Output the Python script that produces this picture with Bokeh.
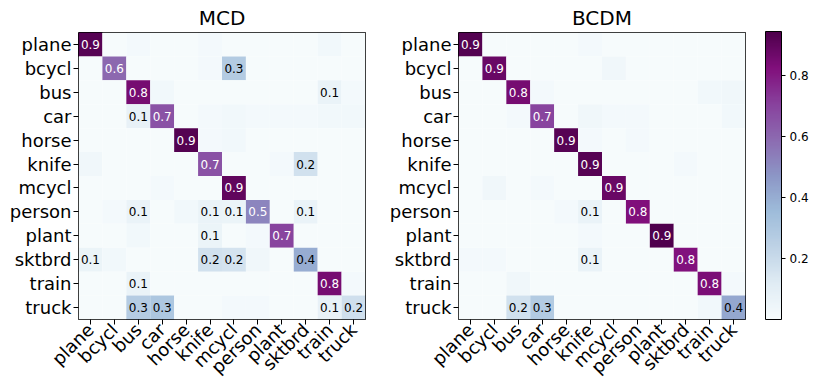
import numpy as np
from bokeh.plotting import figure
from bokeh.models import ColumnDataSource, LinearColorMapper, ColorBar, FixedTicker, Label
from bokeh.layouts import row
from bokeh.transform import transform
from bokeh.embed import file_html
from bokeh.resources import INLINE
from bokeh.core.properties import value

labels = ["plane", "bcycl", "bus", "car", "horse", "knife", "mcycl",
          "person", "plant", "sktbrd", "train", "truck"]

# rows = true class, columns = predicted class
mcd_values = [
    [0.92, 0.01, 0.02, 0.01, 0.01, 0.02, 0.01, 0.01, 0.01, 0.01, 0.03, 0.01],
    [0.01, 0.60, 0.01, 0.01, 0.01, 0.02, 0.28, 0.01, 0.01, 0.01, 0.01, 0.01],
    [0.01, 0.01, 0.85, 0.03, 0.01, 0.01, 0.01, 0.01, 0.01, 0.01, 0.07, 0.02],
    [0.01, 0.01, 0.08, 0.66, 0.01, 0.02, 0.03, 0.02, 0.02, 0.02, 0.03, 0.03],
    [0.01, 0.01, 0.01, 0.01, 0.93, 0.02, 0.03, 0.01, 0.01, 0.01, 0.01, 0.01],
    [0.04, 0.01, 0.01, 0.01, 0.01, 0.66, 0.01, 0.01, 0.02, 0.17, 0.01, 0.01],
    [0.01, 0.01, 0.01, 0.02, 0.01, 0.01, 0.90, 0.01, 0.01, 0.01, 0.01, 0.01],
    [0.01, 0.02, 0.07, 0.01, 0.03, 0.07, 0.06, 0.52, 0.01, 0.07, 0.01, 0.01],
    [0.01, 0.01, 0.03, 0.01, 0.01, 0.06, 0.01, 0.02, 0.70, 0.01, 0.01, 0.01],
    [0.06, 0.03, 0.01, 0.01, 0.01, 0.17, 0.16, 0.04, 0.01, 0.40, 0.01, 0.01],
    [0.01, 0.01, 0.07, 0.01, 0.01, 0.01, 0.01, 0.01, 0.01, 0.01, 0.85, 0.02],
    [0.01, 0.01, 0.27, 0.30, 0.01, 0.01, 0.02, 0.02, 0.01, 0.01, 0.08, 0.18],
]

bcdm_values = [
    [0.93, 0.01, 0.01, 0.01, 0.01, 0.02, 0.01, 0.01, 0.01, 0.01, 0.01, 0.01],
    [0.01, 0.88, 0.01, 0.01, 0.01, 0.01, 0.04, 0.01, 0.01, 0.01, 0.01, 0.01],
    [0.01, 0.01, 0.85, 0.02, 0.01, 0.01, 0.01, 0.01, 0.01, 0.01, 0.03, 0.04],
    [0.01, 0.01, 0.02, 0.70, 0.01, 0.04, 0.02, 0.02, 0.01, 0.01, 0.01, 0.03],
    [0.01, 0.01, 0.01, 0.01, 0.92, 0.02, 0.01, 0.02, 0.01, 0.01, 0.01, 0.01],
    [0.01, 0.01, 0.01, 0.01, 0.01, 0.92, 0.01, 0.01, 0.01, 0.02, 0.01, 0.01],
    [0.01, 0.04, 0.01, 0.02, 0.01, 0.01, 0.88, 0.01, 0.01, 0.01, 0.01, 0.01],
    [0.01, 0.01, 0.01, 0.01, 0.02, 0.07, 0.01, 0.83, 0.01, 0.01, 0.01, 0.01],
    [0.01, 0.01, 0.01, 0.01, 0.01, 0.02, 0.01, 0.01, 0.94, 0.01, 0.01, 0.01],
    [0.02, 0.02, 0.01, 0.01, 0.01, 0.07, 0.01, 0.01, 0.01, 0.82, 0.01, 0.01],
    [0.01, 0.01, 0.04, 0.01, 0.01, 0.01, 0.01, 0.01, 0.01, 0.01, 0.84, 0.02],
    [0.01, 0.01, 0.17, 0.28, 0.01, 0.01, 0.01, 0.01, 0.01, 0.01, 0.03, 0.42],
]

colorbar_ticks = [0.2, 0.4, 0.6, 0.8]
watermark = "https://blog.csdn.net/Xie_mixue"

bupu9 = ["#f7fcfd", "#e0ecf4", "#bfd3e6", "#9ebcda", "#8c96c6",
         "#8c6bb1", "#88419d", "#810f7c", "#4d004b"]


def make_palette(stops, n=256):
    rgb = np.array([[int(c[i:i + 2], 16) for i in (1, 3, 5)] for c in stops], float)
    pos = np.linspace(0, 1, len(stops))
    t = np.linspace(0, 1, n)
    out = []
    for k in range(n):
        r, g, b = (np.interp(t[k], pos, rgb[:, j]) for j in range(3))
        out.append("#%02x%02x%02x" % (int(round(r)), int(round(g)), int(round(b))))
    return out


palette = make_palette(bupu9)
mapper = LinearColorMapper(palette=palette, low=0.0, high=0.945)

FONT = "DejaVu Sans"


def make_fig(title, matrix, border_left, border_right, border_bottom):
    xs, ys, vals, txt, tcol = [], [], [], [], []
    for i, true_lab in enumerate(labels):
        for j, pred_lab in enumerate(labels):
            v = matrix[i][j]
            xs.append(pred_lab)
            ys.append(true_lab)
            vals.append(v)
            s = "%.1f" % v
            txt.append("" if s == "0.0" else s)
            tcol.append("white" if v > 0.47 else "black")
    src = ColumnDataSource(dict(x=xs, y=ys, v=vals, t=txt, c=tcol))
    p = figure(x_range=labels, y_range=list(reversed(labels)),
               frame_width=287, frame_height=287,
               min_border_left=border_left, min_border_right=border_right,
               min_border_top=25, min_border_bottom=border_bottom,
               output_backend="svg", toolbar_location=None, title=title)
    p.rect(x="x", y="y", width=1, height=1, source=src,
           fill_color=transform("v", mapper), line_color=None)
    p.text(x="x", y="y", text="t", source=src, text_color="c",
           text_align="center", text_baseline="middle",
           text_font=value(FONT), text_font_size="12px")
    p.title.text_font = FONT
    p.title.text_font_size = "20px"
    p.title.text_font_style = "normal"
    p.title.text_color = "black"
    p.title.align = "center"
    p.title.standoff = 6
    p.grid.grid_line_color = None
    p.outline_line_color = "black"
    p.outline_line_alpha = 1.0
    for ax in (p.xaxis, p.yaxis):
        ax.axis_line_color = None
        ax.major_tick_line_color = "black"
        ax.major_tick_out = 5
        ax.major_tick_in = 0
        ax.minor_tick_line_color = None
        ax.major_label_text_font = FONT
        ax.major_label_text_font_size = "18px"
        ax.major_label_text_color = "black"
        ax.major_label_standoff = 2
    p.xaxis.major_label_orientation = np.pi / 4
    return p


p1 = make_fig("MCD", mcd_values, 78, 20, 60)
p2 = make_fig("BCDM", bcdm_values, 73, 73, 66)

cb = ColorBar(color_mapper=mapper, ticker=FixedTicker(ticks=colorbar_ticks),
              width=16, height=288, padding=0, margin=0, location=(307, 0),
              bar_line_color="black", border_line_color=None,
              background_fill_color=None,
              major_tick_in=0, major_tick_out=4, major_tick_line_color="black",
              minor_tick_line_color=None, label_standoff=4,
              major_label_text_font=FONT, major_label_text_font_size="12px",
              major_label_text_color="black")
p2.add_layout(cb)

wm = Label(x=132, y=-58, x_units="screen", y_units="screen", level="overlay",
           text=watermark, text_color="#c8c8c8",
           text_font="Liberation Sans", text_font_size="15px")
p2.add_layout(wm)

layout = row(p1, p2)
open("out.html", "w").write(file_html(layout, INLINE))
